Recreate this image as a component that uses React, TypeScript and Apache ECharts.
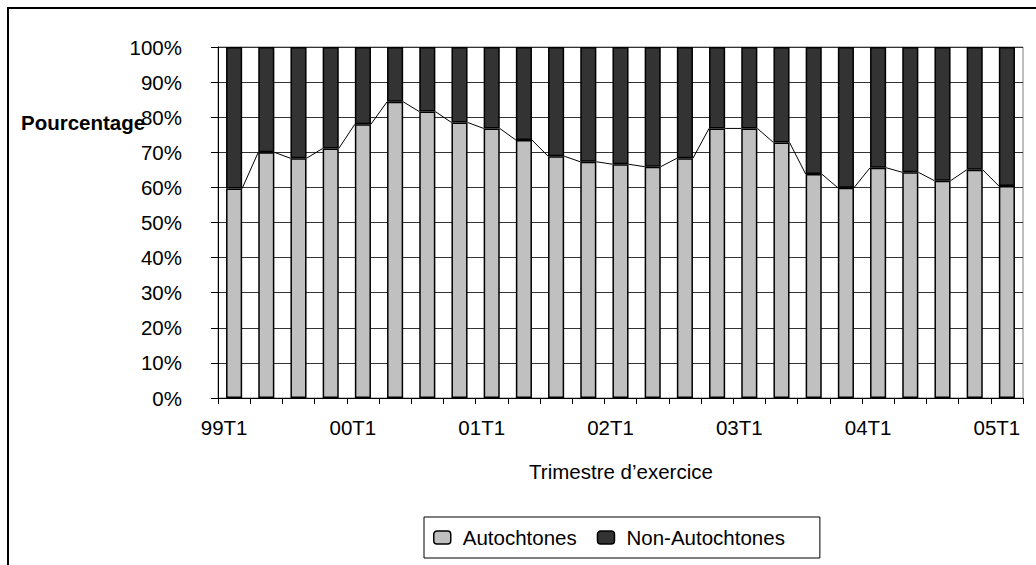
import React, { useEffect, useRef } from "react";
import * as echarts from "echarts";

const categories = [
  "99T1", "99T2", "99T3", "99T4",
  "00T1", "00T2", "00T3", "00T4",
  "01T1", "01T2", "01T3", "01T4",
  "02T1", "02T2", "02T3", "02T4",
  "03T1", "03T2", "03T3", "03T4",
  "04T1", "04T2", "04T3", "04T4",
  "05T1",
];

const autochtones = [
  59.7, 70.0, 68.3, 71.1, 78.0, 84.4, 81.6, 78.5, 76.8, 73.5, 68.9, 67.3,
  66.6, 65.9, 68.3, 76.8, 76.8, 72.8, 63.8, 59.9, 65.6, 64.3, 61.9, 65.0, 60.4,
];

const nonAutochtones = autochtones.map((v) => +(100 - v).toFixed(1));

const yTicks = [0, 10, 20, 30, 40, 50, 60, 70, 80, 90, 100];

const FONT = "'Liberation Sans', Arial, Helvetica, sans-serif";
const FS = 20.5;

export default function App() {
  const ref = useRef<HTMLDivElement>(null);

  useEffect(() => {
    if (!ref.current) return;
    const chart = echarts.init(ref.current, undefined, { renderer: "svg" });
    chart.setOption({
      animation: false,
      backgroundColor: "#fff",
      textStyle: { fontFamily: FONT },
      grid: {
        left: 218,
        right: 13,
        top: 47,
        bottom: 167,
        show: true,
        borderColor: "#808080",
        borderWidth: 1,
      },
      xAxis: {
        type: "category",
        data: categories,
        boundaryGap: true,
        axisLine: { show: true, lineStyle: { color: "#000", width: 1 } },
        axisTick: {
          show: true,
          interval: 0,
          length: 6,
          lineStyle: { color: "#000" },
        },
        axisLabel: {
          interval: 3,
          margin: 19,
          color: "#000",
          fontSize: FS,
          fontFamily: FONT,
          padding: [0, 20, 0, 0],
        },
        splitLine: { show: false },
      },
      yAxis: {
        type: "value",
        min: 0,
        max: 100,
        interval: 10,
        axisLine: { show: true, lineStyle: { color: "#000", width: 1 } },
        axisTick: { show: true, length: 7, lineStyle: { color: "#000" } },
        axisLabel: {
          margin: 36,
          color: "#000",
          fontSize: FS,
          fontFamily: FONT,
          formatter: (v: number) => (yTicks.includes(v) ? v + "%" : ""),
        },
        splitLine: { show: true, lineStyle: { color: "#333", width: 1 } },
      },
      legend: {
        left: 424,
        top: 517,
        orient: "horizontal",
        data: ["Autochtones", "Non-Autochtones"],
        itemWidth: 17,
        itemHeight: 13,
        itemGap: 20,
        padding: [10, 35, 10, 9],
        borderColor: "#000",
        borderWidth: 1,
        backgroundColor: "#fff",
        itemStyle: { borderColor: "#000", borderWidth: 1.5 },
        textStyle: {
          color: "#000",
          fontSize: FS,
          fontFamily: FONT,
          padding: [0, 0, 0, 7],
        },
      },
      graphic: [
        {
          type: "rect",
          silent: true,
          shape: { x: 8, y: 8, width: 1200, height: 700 },
          style: { fill: "none", stroke: "#000", lineWidth: 2 },
          z: -1,
        },
        {
          type: "text",
          left: 21,
          top: 112,
          style: {
            text: "Pourcentage",
            fontSize: FS,
            fontWeight: "bold",
            fontFamily: FONT,
            fill: "#000",
          },
        },
        {
          type: "text",
          x: 621,
          y: 471,
          style: {
            text: "Trimestre d\u2019exercice",
            fontSize: FS,
            fontFamily: FONT,
            fill: "#000",
            align: "center",
            verticalAlign: "middle",
          },
        },
      ],
      series: [
        {
          name: "Autochtones",
          type: "bar",
          stack: "total",
          barWidth: "50%",
          data: autochtones,
          itemStyle: { color: "#C0C0C0", borderColor: "#000", borderWidth: 1.5 },
        },
        {
          name: "Non-Autochtones",
          type: "bar",
          stack: "total",
          barWidth: "50%",
          data: nonAutochtones,
          itemStyle: { color: "#333333", borderColor: "#000", borderWidth: 1.5 },
        },
        {
          name: "lines",
          type: "custom",
          z: 5,
          data: autochtones.map((v, i) => [i, v]),
          encode: { x: 0, y: 1 },
          renderItem: (params: any, api: any) => {
            const i = api.value(0);
            const v = api.value(1);
            if (i >= autochtones.length - 1) return null;
            const n = autochtones[i + 1];
            const p1 = api.coord([i, v]);
            const p2 = api.coord([i + 1, n]);
            const bw = api.size([1, 0])[0];
            return {
              type: "line",
              shape: {
                x1: p1[0] + bw * 0.25,
                y1: p1[1],
                x2: p2[0] - bw * 0.25,
                y2: p2[1],
              },
              style: { stroke: "#000", lineWidth: 1 },
            };
          },
        },
      ],
    });
    return () => chart.dispose();
  }, []);

  return (
    <div
      ref={ref}
      style={{ position: "absolute", left: 0, top: 0, width: 1036, height: 565 }}
    />
  );
}
